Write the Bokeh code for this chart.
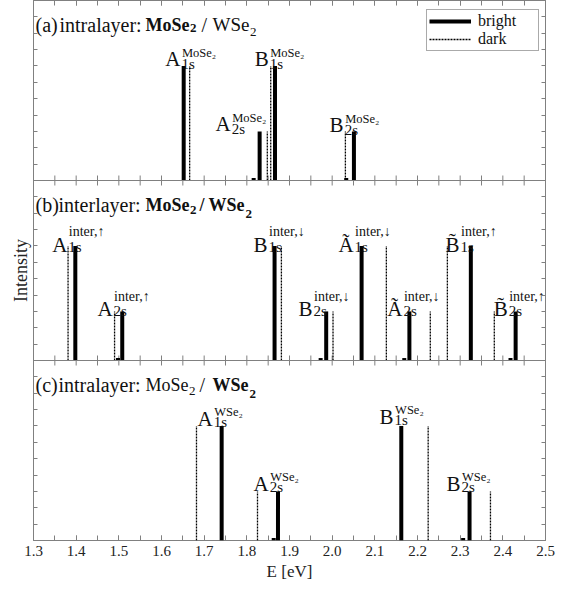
from bokeh.plotting import figure
from bokeh.models import (Range1d, FixedTicker, LinearAxis, CustomJSTickFormatter,
                          PrintfTickFormatter, Span, Legend, LegendItem)
from bokeh.core.properties import value
from bokeh.embed import file_html
from bokeh.resources import INLINE

FONT = "Liberation Serif"

# ---------------- data ----------------
x_ticks = [1.3, 1.4, 1.5, 1.6, 1.7, 1.8, 1.9, 2.0, 2.1, 2.2, 2.3, 2.4, 2.5]
x_minor = [1.3 + 0.05 * i for i in range(25)]

# panel (a) intralayer MoSe2
a_bright_E = [1.652, 1.830, 1.866, 2.051, 1.816, 2.033]
a_bright_I = [0.70, 0.30, 0.70, 0.30, 0.015, 0.015]
a_dark_E = [1.666, 1.848, 1.856, 2.031]
a_dark_I = [0.70, 0.30, 0.70, 0.30]

# panel (b) interlayer
b_bright_E = [1.398, 1.508, 1.865, 1.986, 2.069, 2.181, 2.325, 2.430, 1.498, 1.973, 2.169, 2.418]
b_bright_I = [0.70, 0.30, 0.70, 0.30, 0.70, 0.30, 0.70, 0.30, 0.015, 0.015, 0.015, 0.015]
b_dark_E = [1.381, 1.490, 1.881, 2.002, 2.127, 2.230, 2.270, 2.380]
b_dark_I = [0.70, 0.30, 0.70, 0.30, 0.70, 0.30, 0.70, 0.30]

# panel (c) intralayer WSe2
c_bright_E = [1.741, 1.873, 2.162, 2.322, 1.863, 2.307]
c_bright_I = [0.70, 0.30, 0.70, 0.30, 0.015, 0.015]
c_dark_E = [1.682, 1.825, 2.225, 2.371]
c_dark_I = [0.70, 0.30, 0.70, 0.30]

# peak labels: (main, sub, sup, index of bright peak)
a_labels = [("A", "1s", "MoSe\u2082", 0), ("A", "2s", "MoSe\u2082", 1),
            ("B", "1s", "MoSe\u2082", 2), ("B", "2s", "MoSe\u2082", 3)]
b_labels = [("A", "1s", "inter,\u2191", 0), ("A", "2s", "inter,\u2191", 1),
            ("B", "1s", "inter,\u2193", 2), ("B", "2s", "inter,\u2193", 3),
            ("\u00c3", "1s", "inter,\u2193", 4), ("\u00c3", "2s", "inter,\u2193", 5),
            ("B\u0303", "1s", "inter,\u2191", 6), ("B\u0303", "2s", "inter,\u2191", 7)]
c_labels = [("A", "1s", "WSe\u2082", 0), ("A", "2s", "WSe\u2082", 1),
            ("B", "1s", "WSe\u2082", 2), ("B", "2s", "WSe\u2082", 3)]

# ---------------- layout constants ----------------
X0, X1 = 1.3, 2.5
PANEL_H = 1.1
FRAME_W, FRAME_H = 512, 540
PX_X = (X1 - X0) / FRAME_W          # data units per pixel (x)
PX_Y = 3 * PANEL_H / FRAME_H        # data units per pixel (y)
GRAY = "#808080"
TXT = "#111111"

p = figure(width=557, height=586, x_range=Range1d(X0, X1), y_range=Range1d(0, 3 * PANEL_H),
           output_backend="svg", toolbar_location=None,
           min_border_left=33, min_border_right=12, min_border_top=0, min_border_bottom=46)
p.grid.visible = False
p.outline_line_color = GRAY
p.outline_line_width = 1
p.background_fill_color = "white"

xt = FixedTicker(ticks=x_ticks, minor_ticks=x_minor)
yt = FixedTicker(ticks=[round(0.1 * i, 2) for i in range(34)], minor_ticks=[])
blank = CustomJSTickFormatter(code="return ''")

xa = p.xaxis[0]
xa.ticker = xt
xa.formatter = PrintfTickFormatter(format="%.1f")
xa.axis_line_color = None
xa.major_tick_in, xa.major_tick_out = 5, 0
xa.minor_tick_in, xa.minor_tick_out = 5, 0
xa.major_tick_line_color = GRAY
xa.minor_tick_line_color = GRAY
xa.major_label_standoff = 5
xa.major_label_text_font = FONT
xa.major_label_text_font_size = "15px"
xa.major_label_text_color = "#222222"
xa.axis_label = "E [eV]"
xa.axis_label_text_font = FONT
xa.axis_label_text_font_size = "17px"
xa.axis_label_text_font_style = "normal"
xa.axis_label_text_color = "#222222"
xa.axis_label_standoff = 3

ya = p.yaxis[0]
ya.ticker = yt
ya.formatter = blank
ya.axis_line_color = None
ya.major_tick_in, ya.major_tick_out = 4, 0
ya.minor_tick_line_color = None
ya.major_tick_line_color = GRAY
ya.major_label_standoff = 0
ya.major_label_text_font_size = "1px"
ya.axis_label = "Intensity"
ya.axis_label_text_font = FONT
ya.axis_label_text_font_size = "18px"
ya.axis_label_text_font_style = "normal"
ya.axis_label_text_color = "#222222"
ya.axis_label_standoff = 3

top = LinearAxis(ticker=xt, formatter=blank, axis_line_color=None,
                 major_tick_in=5, major_tick_out=0, minor_tick_in=5, minor_tick_out=0,
                 major_tick_line_color=GRAY, minor_tick_line_color=GRAY,
                 major_label_standoff=0, major_label_text_font_size="1px")
p.add_layout(top, "above")
right = LinearAxis(ticker=yt, formatter=blank, axis_line_color=None,
                   major_tick_in=4, major_tick_out=0, minor_tick_line_color=None,
                   major_tick_line_color=GRAY, major_label_standoff=0,
                   major_label_text_font_size="1px")
p.add_layout(right, "right")

# panel separators with ticks on both sides
for k in (1, 2):
    yb = k * PANEL_H
    p.add_layout(Span(location=yb, dimension="width", line_color=GRAY, line_width=1))
    p.segment(x0=x_minor, y0=[yb - 5 * PX_Y] * len(x_minor), x1=x_minor,
              y1=[yb + 5 * PX_Y] * len(x_minor), line_color=GRAY, line_width=1)

panels = [
    (2 * PANEL_H, a_bright_E, a_bright_I, a_dark_E, a_dark_I),
    (1 * PANEL_H, b_bright_E, b_bright_I, b_dark_E, b_dark_I),
    (0.0, c_bright_E, c_bright_I, c_dark_E, c_dark_I),
]

bE, bY0, bY1, dE, dY0, dY1 = [], [], [], [], [], []
for off, be, bi, de, di in panels:
    bE += be
    bY0 += [off] * len(be)
    bY1 += [off + v for v in bi]
    dE += de
    dY0 += [off] * len(de)
    dY1 += [off + v for v in di]

r_dark = p.segment(x0=dE, y0=dY0, x1=dE, y1=dY1, line_color="black", line_width=1.3,
                   line_dash="2 1")
r_bright = p.segment(x0=bE, y0=bY0, x1=bE, y1=bY1, line_color="black", line_width=4,
                     line_cap="butt")

# peak labels  (dx: px from bar to letter/sub junction, dy: baseline px above bar top)
label_layout = [
    (a_labels, panels[0], [(-3.3, 7), (-29, 7), (-6.3, 7), (-10.3, 6)], 5, 6, "12.5px"),
    (b_labels, panels[1], [(-8, 1), (-9.7, 2), (-7, 1), (-13.7, 2), (-8, 1), (-7, 2),
                           (-11.3, 1), (-8, 2)], 2, 13, "14px"),
    (c_labels, panels[2], [(-9, 7), (-9.3, 7), (-7.7, 9), (-9, 7)], 3, 7, "12.5px"),
]
for labels, (off, be, bi, de, di), offs, sub_drop, sup_rise, sup_size in label_layout:
    mx, my, mt, sx, sy, st, ux, uy, ut = [], [], [], [], [], [], [], [], []
    for (main, sub, sup, idx), (dx, dy) in zip(labels, offs):
        x = be[idx] + dx * PX_X
        y = off + bi[idx] + dy * PX_Y
        mx.append(x); my.append(y); mt.append(main)
        sx.append(x + 1 * PX_X); sy.append(y - sub_drop * PX_Y); st.append(sub)
        ux.append(x + 1.5 * PX_X); uy.append(y + sup_rise * PX_Y); ut.append(sup)
    p.text(x=mx, y=my, text=mt, text_font=value(FONT), text_font_size=value("21px"),
           text_align="right", text_baseline="alphabetic", text_color=TXT)
    p.text(x=sx, y=sy, text=st, text_font=value(FONT), text_font_size=value("15px"),
           text_align="left", text_baseline="alphabetic", text_color=TXT)
    p.text(x=ux, y=uy, text=ut, text_font=value(FONT), text_font_size=value(sup_size),
           text_align="left", text_baseline="alphabetic", text_color=TXT)

# panel titles: (text, px from frame left, weight, size, drop px below baseline)
titles = [
    (panels[0][0], [("(a)", 2, "normal", "20px", 0), ("intralayer:", 26, "normal", "20px", 0),
                    ("MoSe", 112, "bold", "18px", 0), ("2", 156.5, "bold", "13px", 3),
                    ("/", 168, "normal", "20px", 0), ("WSe", 179, "normal", "19px", 0),
                    ("2", 216.5, "normal", "13px", 7)]),
    (panels[1][0], [("(b)", 2, "normal", "20px", 0), ("interlayer:", 25, "normal", "20px", 0),
                    ("MoSe", 112, "bold", "18px", 0), ("2", 156.5, "bold", "13px", 5),
                    ("/", 166, "bold", "18px", 0), ("WSe", 175, "bold", "18px", 0),
                    ("2", 212, "bold", "13px", 9)]),
    (panels[2][0], [("(c)", 2, "normal", "20px", 0), ("intralayer:", 25, "normal", "20px", 0),
                    ("MoSe", 112, "normal", "18px", 0), ("2", 155.5, "normal", "13px", 6),
                    ("/", 166, "normal", "20px", 0), ("WSe", 179, "bold", "18px", 0),
                    ("2", 216, "bold", "13px", 9)]),
]
for off, pieces in titles:
    ybase = off + PANEL_H - 24 * PX_Y
    for txt, xpx, weight, size, drop in pieces:
        p.text(x=[X0 + xpx * PX_X], y=[ybase - drop * PX_Y], text=[txt],
               text_font=value(FONT), text_font_size=value(size), text_font_style=weight,
               text_align="left", text_baseline="alphabetic", text_color=TXT)

legend = Legend(items=[LegendItem(label="bright", renderers=[r_bright]),
                       LegendItem(label="dark", renderers=[r_dark])],
                location=(393, 489), label_text_font=FONT, label_text_font_size="16px",
                label_text_color=TXT,
                glyph_width=42, glyph_height=16, label_height=16, label_standoff=7,
                padding=2, spacing=0, margin=0, label_width=58,
                border_line_color="#555555", border_line_width=1,
                background_fill_color="white", background_fill_alpha=1)
p.add_layout(legend)

open("out.html", "w").write(file_html(p, INLINE))
